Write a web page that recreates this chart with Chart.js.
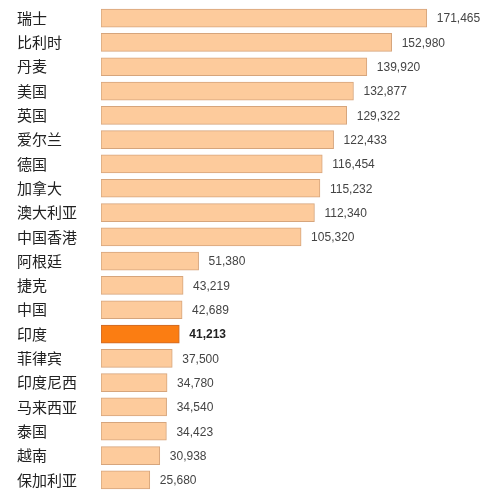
<!DOCTYPE html>
<html>
<head>
<meta charset="utf-8">
<script src="https://cdn.jsdelivr.net/npm/chart.js@4.4.1/dist/chart.umd.min.js"></script>
<style>
  html, body { margin: 0; padding: 0; background: #fff; }
  #wrap { width: 494px; height: 497px; position: relative; }
</style>
</head>
<body>
<div id="wrap"><canvas id="income-chart"></canvas></div>
<script>
const countries = ['瑞士', '比利时', '丹麦', '美国', '英国', '爱尔兰', '德国', '加拿大', '澳大利亚',
    '中国香港', '阿根廷', '捷克', '中国', '印度', '菲律宾', '印度尼西', '马来西亚', '泰国', '越南', '保加利亚'];
const values = [171465, 152980, 139920, 132877, 129322, 122433, 116454, 115232, 112340,
    105320, 51380, 43219, 42689, 41213, 37500, 34780, 34540, 34423, 30938, 25680];
const highlight = '印度';

const fillColors = countries.map(c => c === highlight ? '#fb7d12' : '#fdcb9c');
const borderColors = countries.map(c => c === highlight ? '#c9692a' : '#d6a57c');

const valueLabels = {
    id: 'valueLabels',
    afterDatasetsDraw(chart) {
        const ctx = chart.ctx;
        const meta = chart.getDatasetMeta(0);
        ctx.save();
        ctx.textBaseline = 'middle';
        ctx.textAlign = 'left';
        meta.data.forEach((bar, i) => {
            const bold = countries[i] === highlight;
            ctx.font = (bold ? 'bold ' : '') + '12px "Liberation Sans", Arial, sans-serif';
            ctx.fillStyle = bold ? '#222' : '#444';
            ctx.fillText(values[i].toLocaleString('en-US'), bar.x + 10, bar.y + 1);
        });
        ctx.restore();
    }
};

const data = {
    labels: countries,
    datasets: [{
        data: values,
        backgroundColor: fillColors,
        borderColor: borderColors,
        borderWidth: 1,
        borderSkipped: false,
        barThickness: 18
    }]
};

const config = {
    type: 'bar',
    data,
    options: {
        indexAxis: 'y',
        responsive: true,
        maintainAspectRatio: false,
        animation: false,
        layout: { padding: { left: 17, right: 13, top: 6, bottom: 5 } },
        plugins: {
            legend: { display: false },
            tooltip: { enabled: false }
        },
        scales: {
            x: {
                display: false,
                min: 0,
                max: 200000
            },
            y: {
                grid: { display: false },
                border: { display: false },
                afterFit(scale) {
                    scale.width = 84;
                    scale.paddingTop = 0;
                    scale.paddingBottom = 0;
                },
                ticks: {
                    crossAlign: 'far',
                    color: '#222',
                    font: { family: '"Noto Sans CJK SC", sans-serif', size: 15 }
                }
            }
        }
    },
    plugins: [valueLabels]
};

new Chart(document.querySelector('#income-chart'), config);
</script>
</body>
</html>
